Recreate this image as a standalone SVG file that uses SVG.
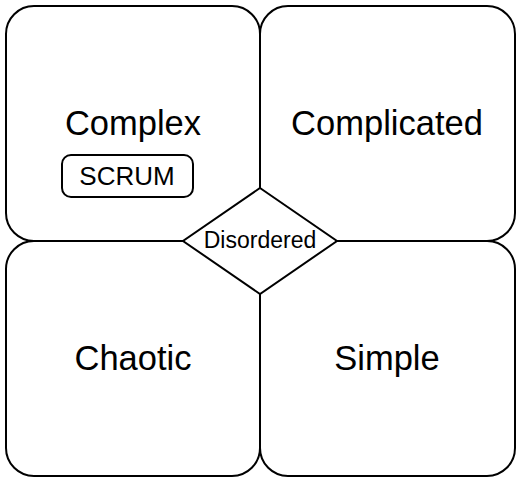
<svg xmlns="http://www.w3.org/2000/svg" width="522" height="484" viewBox="0 0 522 484">
<style>
.box{fill:#fff;stroke:#000;stroke-width:2}
.t{font-family:"Liberation Sans",Arial,sans-serif;fill:#000;text-anchor:middle}
.big{font-size:34.5px}
.sm{font-size:23px}
.md{font-size:26px}
</style>
<rect width="522" height="484" fill="#fff"/>
<g id="complex">
<rect class="box" x="6" y="6" width="254" height="235" rx="28" ry="28"/>
<text class="t big" x="133" y="135">Complex</text>
</g>
<g id="complicated">
<rect class="box" x="260" y="6" width="255" height="235" rx="28" ry="28"/>
<text class="t big" x="387" y="135">Complicated</text>
</g>
<g id="chaotic">
<rect class="box" x="6" y="241" width="254" height="235" rx="28" ry="28"/>
<text class="t big" x="133" y="370">Chaotic</text>
</g>
<g id="simple">
<rect class="box" x="260" y="241" width="255" height="235" rx="28" ry="28"/>
<text class="t big" x="387" y="370">Simple</text>
</g>
<g id="scrum">
<rect class="box" x="62" y="155" width="131" height="42" rx="9" ry="9"/>
<text class="t md" x="127" y="185">SCRUM</text>
</g>
<g id="disordered">
<polygon class="box" points="260,188 337,241 260,294 183,241"/>
<text class="t sm" x="260" y="248">Disordered</text>
</g>
<g id="connectors"></g>
</svg>
